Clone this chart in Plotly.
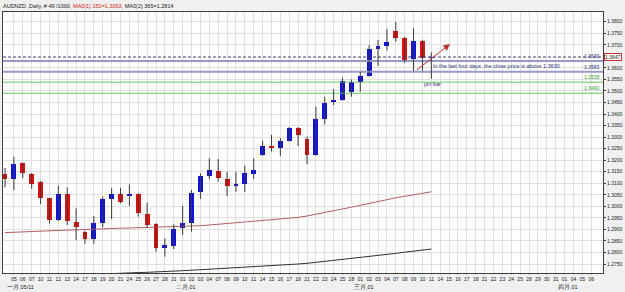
import plotly.graph_objects as go

# ---------------- data ----------------
jan_days = [4, 5, 6, 7, 10, 11, 12, 13, 14, 17, 18, 19, 20, 21, 24, 25, 26, 27, 28, 31]
feb_days = [1, 2, 3, 4, 7, 8, 9, 10, 11, 14, 15, 16, 17, 18, 21, 22, 23, 24, 25, 28]
mar_days = [1, 2, 3, 4, 7, 8, 9, 10, 11, 14, 15, 16, 17, 18, 21, 22, 23, 24, 25, 28, 29, 30, 31]
apr_days = [1, 4, 5, 6]
month_labels = ["一月,05/11", "二月,01", "三月,01", "四月,01"]

opens = [1.3141, 1.3120, 1.3187, 1.3140, 1.3106, 1.3034, 1.2941, 1.3053, 1.2933, 1.2887,
         1.2857, 1.2929, 1.3032, 1.3053, 1.3046, 1.3053, 1.2967, 1.2922, 1.2821, 1.2830,
         1.2905, 1.2927, 1.3061, 1.3133, 1.3152, 1.3117, 1.3089, 1.3095, 1.3140, 1.3222,
         1.3263, 1.3254, 1.3283, 1.3341, 1.3290, 1.3221, 1.3377, 1.3454, 1.3461, 1.3497,
         1.3539, 1.3564, 1.3682, 1.3695, 1.3760, 1.3731, 1.3637, 1.3718, 1.3643]
highs = [1.3166, 1.3215, 1.3190, 1.3143, 1.3109, 1.3037, 1.3089, 1.3082, 1.2991, 1.2893,
         1.2958, 1.3042, 1.3078, 1.3080, 1.3095, 1.3056, 1.3016, 1.2926, 1.2861, 1.2922,
         1.3001, 1.3071, 1.3143, 1.3208, 1.3205, 1.3150, 1.3150, 1.3176, 1.3208, 1.3284,
         1.3309, 1.3297, 1.3344, 1.3343, 1.3302, 1.3432, 1.3475, 1.3507, 1.3557, 1.3550,
         1.3582, 1.3699, 1.3721, 1.3768, 1.3800, 1.3735, 1.3771, 1.3721, 1.3667]
lows = [1.3082, 1.3070, 1.3122, 1.3076, 1.3010, 1.2926, 1.2936, 1.2919, 1.2854, 1.2838,
        1.2838, 1.2909, 1.2944, 1.3013, 1.3001, 1.2955, 1.2909, 1.2803, 1.2782, 1.2815,
        1.2876, 1.2890, 1.3032, 1.3118, 1.3107, 1.3045, 1.3063, 1.3063, 1.3118, 1.3219,
        1.3237, 1.3219, 1.3280, 1.3261, 1.3182, 1.3219, 1.3355, 1.3439, 1.3458, 1.3475,
        1.3497, 1.3562, 1.3608, 1.3675, 1.3713, 1.3622, 1.3586, 1.3588, 1.3552]
closes = [1.3120, 1.3185, 1.3143, 1.3098, 1.3034, 1.2941, 1.3052, 1.2935, 1.2912, 1.2860,
          1.2926, 1.3032, 1.3053, 1.3017, 1.3053, 1.2969, 1.2919, 1.2818, 1.2832, 1.2902,
          1.2927, 1.3059, 1.3133, 1.3156, 1.3121, 1.3089, 1.3097, 1.3143, 1.3158, 1.3263,
          1.3254, 1.3284, 1.3341, 1.3309, 1.3221, 1.3378, 1.3446, 1.3461, 1.3542, 1.3539,
          1.3563, 1.3682, 1.3693, 1.3711, 1.3731, 1.3634, 1.3716, 1.3644, 1.3647]
ma150 = [1.2886, 1.2888, 1.2889, 1.2891, 1.2892, 1.2894, 1.2895, 1.2897, 1.2898, 1.2900,
         1.2901, 1.2902, 1.2904, 1.2905, 1.2906, 1.2907, 1.2908, 1.2909, 1.2910, 1.2910,
         1.2911, 1.2913, 1.2916, 1.2919, 1.2922, 1.2925, 1.2929, 1.2933, 1.2936, 1.2939,
         1.2942, 1.2945, 1.2948, 1.2952, 1.2958, 1.2965, 1.2972, 1.2980, 1.2988, 1.2996,
         1.3004, 1.3013, 1.3022, 1.3030, 1.3037, 1.3043, 1.3050, 1.3057, 1.3063]
ma365 = [1.2690, 1.2692, 1.2693, 1.2695, 1.2696, 1.2698, 1.2699, 1.2701, 1.2702, 1.2704,
         1.2705, 1.2707, 1.2709, 1.2711, 1.2712, 1.2713, 1.2714, 1.2715, 1.2717, 1.2719,
         1.2721, 1.2723, 1.2725, 1.2728, 1.2730, 1.2732, 1.2734, 1.2736, 1.2738, 1.2740,
         1.2742, 1.2745, 1.2747, 1.2750, 1.2753, 1.2757, 1.2761, 1.2765, 1.2769, 1.2773,
         1.2777, 1.2781, 1.2786, 1.2791, 1.2796, 1.2801, 1.2806, 1.2811, 1.2815]

current_price = 1.3647
blue_levels = [1.3630, 1.3583]
green_levels = [1.3538, 1.3490]
price_ticks = [1.2750, 1.2800, 1.2850, 1.2900, 1.2950, 1.3000, 1.3050, 1.3100, 1.3150, 1.3200,
               1.3250, 1.3300, 1.3350, 1.3400, 1.3450, 1.3500, 1.3550, 1.3600, 1.3650, 1.3700,
               1.3750, 1.3800]
arrow_start = (46.2, 1.3586)
arrow_end = (50.1, 1.3703)
note_text = "In the last four days ,the close price is above 1.3630"
pin_text = "pin bar"
title_parts = ["AUDNZD ,Daily, # 49 /1000, ", "MA0(1) 150=1.3063", ", MA0(2) 365=1.2814"]

# ---------------- build ----------------
day_labels = [f"{d:02d}" for d in jan_days + feb_days + mar_days + apr_days]
month_starts = [1, len(jan_days), len(jan_days) + len(feb_days),
                len(jan_days) + len(feb_days) + len(mar_days)]
n = len(opens)
xs = list(range(n))

UP = "#1010e0"
DN = "#e01010"
WICK = "#3a3a3a"
FONT = "Liberation Sans"

fig = go.Figure()

# MAs
fig.add_trace(go.Scatter(x=xs, y=ma150, mode="lines", line=dict(color="#b06060", width=1), hoverinfo="skip"))
fig.add_trace(go.Scatter(x=xs, y=ma365, mode="lines", line=dict(color="#303030", width=1), hoverinfo="skip"))

# horizontal levels
xr = [-0.23, 67.33]
fig.add_trace(go.Scatter(x=xr, y=[current_price] * 2, mode="lines",
                         line=dict(color="#3a3a78", width=1, dash="3px,2px"), hoverinfo="skip"))
for lv in blue_levels:
    fig.add_trace(go.Scatter(x=xr, y=[lv] * 2, mode="lines",
                             line=dict(color="#9a9ac8", width=2), hoverinfo="skip"))
for lv in green_levels:
    fig.add_trace(go.Scatter(x=xr, y=[lv] * 2, mode="lines",
                             line=dict(color="#66c466", width=1), hoverinfo="skip"))

# wicks
wx, wy = [], []
for i in xs:
    wx += [i, i, None]
    wy += [lows[i], highs[i], None]
fig.add_trace(go.Scatter(x=wx, y=wy, mode="lines", line=dict(color=WICK, width=1), hoverinfo="skip"))

# bodies
bases = [min(o, c) for o, c in zip(opens, closes)]
heights = [max(abs(c - o), 0.00012) for o, c in zip(opens, closes)]
colors = [UP if c >= o else DN for o, c in zip(opens, closes)]
fig.add_trace(go.Bar(x=xs, y=heights, base=bases, width=0.55, marker=dict(color=colors, line=dict(width=0)),
                     hoverinfo="skip"))

# tick values: the current-price box replaces the nearest tick label
tickvals = [t for t in price_ticks if abs(t - current_price) > 0.001]

ann = []
# title
ann.append(dict(xref="paper", yref="paper", x=-0.003, y=1.0, yshift=6, xanchor="left", yanchor="middle",
                showarrow=False,
                text=title_parts[0] + f"<span style='color:#d02020'>{title_parts[1]}</span>" + title_parts[2],
                font=dict(size=5.5, color="#202020", family=FONT)))
# month labels
for ms, ml in zip(month_starts, month_labels):
    ann.append(dict(xref="x", yref="paper", x=ms - 0.95, y=0, yshift=-14, xanchor="left", yanchor="middle",
                    showarrow=False, text=ml, font=dict(size=5.5, color="#202020", family=FONT)))
# level labels
for lv in blue_levels:
    ann.append(dict(xref="paper", yref="y", x=1.0, y=lv, xshift=-1, xanchor="right", yanchor="bottom",
                    showarrow=False, text=f"{lv:.4f}", font=dict(size=5, color="#303078", family=FONT)))
for lv in green_levels:
    ann.append(dict(xref="paper", yref="y", x=1.0, y=lv, xshift=-1, xanchor="right", yanchor="bottom",
                    showarrow=False, text=f"{lv:.4f}", font=dict(size=5, color="#30a030", family=FONT)))
# current price box
ann.append(dict(xref="paper", yref="y", x=1.0, y=current_price, xshift=1, xanchor="left", yanchor="middle",
                showarrow=False, text=f"{current_price:.4f}", bgcolor="white", bordercolor="#d03030",
                borderwidth=1, borderpad=0, font=dict(size=5, color="#202020", family=FONT)))
# arrow
ann.append(dict(xref="x", yref="y", axref="x", ayref="y", x=arrow_end[0], y=arrow_end[1],
                ax=arrow_start[0], ay=arrow_start[1], showarrow=True, arrowhead=2, arrowsize=1.3,
                arrowwidth=1, arrowcolor="#c03030", text=""))
# notes
ann.append(dict(xref="x", yref="y", x=48, y=1.3608, xanchor="left", yanchor="middle", showarrow=False,
                text=note_text, font=dict(size=5.5, color="#303070", family=FONT)))
ann.append(dict(xref="x", yref="y", x=48.1, y=1.3530, xanchor="center", yanchor="middle", showarrow=False,
                text=pin_text, font=dict(size=5.5, color="#303070", family=FONT)))

fig.update_layout(
    width=625, height=292,
    margin=dict(l=2, r=19, t=12, b=19),
    paper_bgcolor="#f0f0f0", plot_bgcolor="white",
    showlegend=False, bargap=0,
    annotations=ann,
    xaxis=dict(range=xr, tickmode="array", tickvals=list(range(1, len(day_labels))),
               ticktext=day_labels[1:], tickfont=dict(size=5, color="#202020", family=FONT),
               showgrid=True, gridcolor="#e0e0e0", gridwidth=1, zeroline=False,
               showline=True, linecolor="#404040", linewidth=1, mirror=True,
               ticks="outside", ticklen=1, tickcolor="#c0c0c0", tickangle=0),
    yaxis=dict(range=[1.2711, 1.3842], side="right", tickmode="array", tickvals=tickvals,
               ticktext=[f"{t:.4f}" for t in tickvals],
               tickfont=dict(size=5, color="#202020", family=FONT),
               showgrid=True, gridcolor="#e0e0e0", gridwidth=1, zeroline=False,
               showline=True, linecolor="#404040", linewidth=1, mirror=True,
               ticks="outside", ticklen=2, tickcolor="#404040"),
)

fig.write_html("out.html")
